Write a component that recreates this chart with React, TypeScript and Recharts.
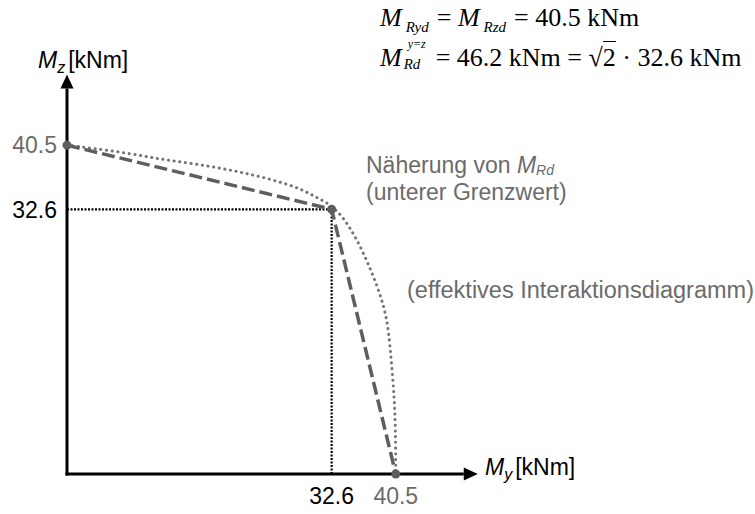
import React from "react";
import { ComposedChart, Line, XAxis, YAxis, ReferenceLine, ReferenceDot } from "recharts";

// effective interaction curve
const curveX = [0, 3.2, 7.4, 11.5, 15.6, 19.7, 23.8, 27.9, 30.5, 32.9, 34.9, 36.5, 37.9, 39.0, 39.6, 40.0, 40.3, 40.45, 40.5];
const curveY = [40.5, 40.1, 39.5, 38.8, 38.2, 37.5, 36.6, 35.4, 34.2, 32.7, 30.2, 27.2, 23.9, 20.6, 17.4, 13.3, 9.2, 5.1, 0];

// lower bound approximation
const approxX = [0, 32.6, 40.5];
const approxY = [40.5, 32.6, 0];

const xTicks = [32.6, 40.5];
const yTicks = [32.6, 40.5];
const cornerValue = 32.6;
const maxValue = 40.5;

const curveData = curveX.map((x, i) => ({ x, y: curveY[i] }));
const approxData = approxX.map((x, i) => ({ x, y: approxY[i] }));

const GRAY = "#6b6b6b";
const DARK = "#5e5e5e";
const SANS = "'Liberation Sans', Arial, sans-serif";
const SERIF = "'Liberation Serif', 'Times New Roman', serif";

// axis line with arrow head
const Arrow = (props: any) => {
  const { x1, y1, x2, y2 } = props;
  const len = Math.hypot(x2 - x1, y2 - y1);
  const ux = (x2 - x1) / len;
  const uy = (y2 - y1) / len;
  const head = 14;
  const half = 6.5;
  const bx = x2 - ux * head;
  const by = y2 - uy * head;
  return (
    <g>
      <line x1={x1 - ux * 1.5} y1={y1 - uy * 1.5} x2={bx} y2={by} stroke="#000" strokeWidth={3} />
      <polygon
        points={`${x2},${y2} ${bx - uy * half},${by + ux * half} ${bx + uy * half},${by - ux * half}`}
        fill="#000"
      />
    </g>
  );
};

const YTick = ({ x, y, payload }: any) => (
  <text x={x - 10} y={y} dy="0.36em" textAnchor="end" fontSize={23} fontFamily={SANS}
    fill={payload.value === maxValue ? GRAY : "#000"}>
    {payload.value}
  </text>
);

const XTick = ({ x, y, payload }: any) => (
  <text x={x} y={y + 30} textAnchor="middle" fontSize={23} fontFamily={SANS}
    fill={payload.value === maxValue ? GRAY : "#000"}>
    {payload.value}
  </text>
);

const sub = { fontSize: 15, fontStyle: "italic", position: "relative", top: 6 } as const;

export default function App() {
  return (
    <div style={{ position: "absolute", left: 0, top: 0, width: 755, height: 514, background: "#fff" }}>
      <ComposedChart width={755} height={514} margin={{ top: 68, right: 274, bottom: 10, left: 7 }}>
        <XAxis dataKey="x" type="number" domain={[0, 51]} allowDataOverflow ticks={xTicks}
          axisLine={false} tickLine={false} tickSize={0} tickMargin={0} height={30} tick={<XTick />} />
        <YAxis dataKey="y" type="number" domain={[0, 50]} allowDataOverflow ticks={yTicks}
          axisLine={false} tickLine={false} tickSize={0} tickMargin={0} width={60} tick={<YTick />} />
        <ReferenceLine segment={[{ x: 0, y: cornerValue }, { x: cornerValue, y: cornerValue }]}
          stroke="#000" strokeWidth={2.2} strokeDasharray="2 1.5" ifOverflow="visible" />
        <ReferenceLine segment={[{ x: cornerValue, y: 0 }, { x: cornerValue, y: cornerValue }]}
          stroke="#000" strokeWidth={2.2} strokeDasharray="2 1.5" ifOverflow="visible" />
        <Line data={curveData} dataKey="y" type="natural" stroke="#737373" strokeWidth={3}
          strokeDasharray="0.1 5.6" strokeLinecap="round" dot={false} activeDot={false} isAnimationActive={false} />
        <Line data={approxData} dataKey="y" type="linear" stroke={DARK} strokeWidth={3.5}
          strokeDasharray="13 5" dot={false} activeDot={false} isAnimationActive={false} />
        <ReferenceLine segment={[{ x: 0, y: 0 }, { x: 50.6, y: 0 }]} ifOverflow="visible" shape={<Arrow />} />
        <ReferenceLine segment={[{ x: 0, y: 0 }, { x: 0, y: 49.2 }]} ifOverflow="visible" shape={<Arrow />} />
        {approxX.map((x, i) => (
          <ReferenceDot key={i} x={x} y={approxY[i]} r={4.5} fill={DARK} stroke="none" ifOverflow="visible" />
        ))}
      </ComposedChart>

      <svg width={755} height={514} style={{ position: "absolute", left: 0, top: 0, pointerEvents: "none" }}>
        <text x={38} y={68} fontSize={23} fontFamily={SANS} fill="#000">
          <tspan fontStyle="italic">M</tspan>
          <tspan fontStyle="italic" fontSize={16} dy={5}>z</tspan>
          <tspan dy={-5} dx={3}>[kNm]</tspan>
        </text>
        <text x={485} y={475} fontSize={23} fontFamily={SANS} fill="#000">
          <tspan fontStyle="italic">M</tspan>
          <tspan fontStyle="italic" fontSize={16} dy={5}>y</tspan>
          <tspan dy={-5} dx={3}>[kNm]</tspan>
        </text>
        <text x={366} y={173} fontSize={23} fontFamily={SANS} fill={GRAY}>
          <tspan>Näherung von </tspan>
          <tspan fontStyle="italic">M</tspan>
          <tspan fontStyle="italic" fontSize={14} dy={2}>Rd</tspan>
        </text>
        <text x={366} y={200} fontSize={23} fontFamily={SANS} fill={GRAY}>(unterer Grenzwert)</text>
        <text x={407} y={298} fontSize={23.5} fontFamily={SANS} fill={GRAY}>(effektives Interaktionsdiagramm)</text>
      </svg>

      <div style={{ position: "absolute", left: 380, top: 5, fontFamily: SERIF, fontSize: 26, lineHeight: "26px", whiteSpace: "nowrap", color: "#000" }}>
        <i>M</i>
        <span style={{ ...sub, marginLeft: 4, marginRight: 8 }}>Ryd</span>
        = <i>M</i>
        <span style={{ ...sub, marginLeft: 4, marginRight: 8 }}>Rzd</span>
        = 40.5 kNm
      </div>
      <div style={{ position: "absolute", left: 380, top: 45, fontFamily: SERIF, fontSize: 26, lineHeight: "26px", whiteSpace: "nowrap", color: "#000" }}>
        <i>M</i>
        <span style={{ display: "inline-block", position: "relative", width: 32, height: 10, marginLeft: 2 }}>
          <span style={{ position: "absolute", left: 4, top: -18, fontSize: 12, fontStyle: "italic", lineHeight: "12px" }}>y=z</span>
          <span style={{ position: "absolute", left: 0, top: 1, fontSize: 15, fontStyle: "italic", lineHeight: "15px" }}>Rd</span>
        </span>
        = 46.2 kNm = √<span style={{ borderTop: "1px solid #000", paddingTop: 1 }}>2</span> · 32.6 kNm
      </div>
    </div>
  );
}
